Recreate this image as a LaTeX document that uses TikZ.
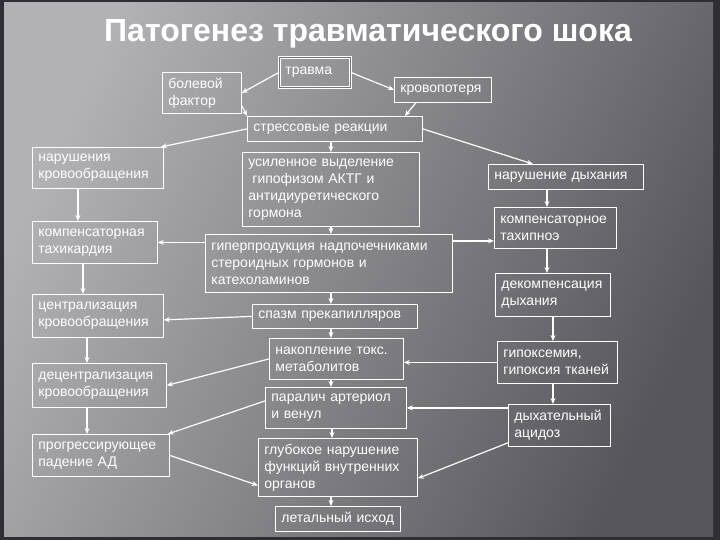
\documentclass[tikz,border=0pt]{standalone}
\usepackage{fontspec}
\setmainfont{Liberation Sans}
\usetikzlibrary{arrows.meta}

\definecolor{bglight}{HTML}{B2B2B6}
\definecolor{bgmid}{HTML}{74747A}
\definecolor{bgdark}{HTML}{56565C}
\definecolor{frame}{HTML}{2E2E34}

\tikzset{
  blk/.style 2 args={text width=#1, minimum height=#2},
  link/.style={->, draw=white, line width=1.2pt}
}

\begin{document}
\begin{tikzpicture}[x=1pt, y=-1pt, >={Stealth[length=6pt,width=5pt]}]
\useasboundingbox (0,0) rectangle (720,540);
\fill[frame] (0,0) rectangle (720,540);
\shade[left color=bglight, middle color=bgmid, right color=bgdark, shading angle=65] (4,3) rectangle (713,536);

\node[text=white, font=\fontsize{32}{32}\bfseries\selectfont] (title) at (368,34) {Патогенез травматического шока};

\begin{scope}[every node/.style={draw=white, thick, text=white, anchor=north west, align=left, inner xsep=6pt, inner ysep=3pt, font=\fontsize{14}{17}\selectfont}]
    \node[blk={67pt}{41pt}] (pain) at (162,72) {болевой\\фактор};
    \node[blk={59pt}{30pt}, double=bgmid, double distance=1.2pt] (trauma) at (279,57) {травма};
    \node[blk={85pt}{25pt}] (bloodloss) at (394,77) {кровопотеря};
    \node[blk={163pt}{25pt}] (stress) at (247,116) {стрессовые реакции};

    \node[blk={119pt}{41pt}] (circ) at (32,147) {нарушения\\кровообращения};
    \node[blk={113pt}{42pt}] (tachy) at (32,221) {компенсаторная\\тахикардия};
    \node[blk={119pt}{43pt}] (central) at (32,294) {централизация\\кровообращения};
    \node[blk={122pt}{44pt}] (decentral) at (32,363) {децентрализация\\кровообращения};
    \node[blk={125pt}{42pt}] (pressure) at (32,434) {прогрессирующее\\падение АД};

    \node[blk={165pt}{74pt}] (acth) at (242,152) {усиленное выделение\\\hspace{4pt}гипофизом АКТГ и\\антидиуретического\\гормона};
    \node[blk={235pt}{58pt}] (adrenal) at (205,234) {гиперпродукция надпочечниками\\стероидных гормонов и\\катехоламинов};
    \node[blk={153pt}{24pt}] (spasm) at (252,304) {спазм прекапилляров};
    \node[blk={122pt}{41pt}] (toxin) at (269,338) {накопление токс.\\метаболитов};
    \node[blk={129pt}{41pt}] (paralysis) at (265,387) {паралич артериол\\и венул};
    \node[blk={147pt}{58pt}] (organs) at (258,438) {глубокое нарушение\\функций внутренних\\органов};
    \node[blk={113pt}{25pt}] (death) at (275,506) {летальный исход};

    \node[blk={143pt}{25pt}] (breath) at (488,164) {нарушение дыхания};
    \node[blk={110pt}{41pt}] (tachypnea) at (494,207) {компенсаторное\\тахипноэ};
    \node[blk={103pt}{43pt}] (decomp) at (495,273) {декомпенсация\\дыхания};
    \node[blk={108pt}{42pt}] (hypoxia) at (497,341) {гипоксемия,\\гипоксия тканей};
    \node[blk={90pt}{42pt}] (acidosis) at (508,404) {дыхательный\\ацидоз};
\end{scope}

\draw[link] (trauma.west) -- (pain.east);
\draw[link] (trauma.east) -- (bloodloss.west);
\draw[link] ([yshift=8pt]pain.south east) -- (stress.north west);
\draw[link] ([xshift=-27pt]bloodloss.south) -- ([xshift=70pt]stress.north);
\draw[link] (stress.west) -- ([xshift=-3pt]circ.north east);
\draw[link] (stress.south -| acth.north) -- (acth.north);
\draw[link] (stress.east) -- ([xshift=-33pt]breath.north);

\draw[link] ([xshift=-20pt]circ.south) -- ([xshift=-20pt]circ.south |- tachy.north);
\draw[link] (tachy.south -| 83,0) -- (central.north -| 83,0);
\draw[link] (central.south -| 87,0) -- (decentral.north -| 87,0);
\draw[link] (decentral.south -| 87,0) -- (pressure.north -| 87,0);

\draw[link] (acth.south) -- (acth.south |- adrenal.north);
\draw[link] (adrenal.west |- tachy.east) -- (tachy.east);
\draw[link] ([yshift=-13pt]tachypnea.west -| adrenal.east) -- ([yshift=-13pt]tachypnea.west);
\draw[link] (adrenal.south -| acth.south) -- (spasm.north -| acth.south);
\draw[link] (spasm.west) -- ([yshift=-4pt]central.east);
\draw[link] (spasm.south -| 331,0) -- (toxin.north -| 331,0);
\draw[link] (toxin.west) -- (decentral.east);
\draw[link] (toxin.south -| 331,0) -- (paralysis.north -| 331,0);
\draw[link] ([yshift=7pt]paralysis.west) -- ([xshift=-2pt]pressure.north east);
\draw[link] (pressure.east) -- ([yshift=-18pt]organs.west);
\draw[link] (paralysis.south -| 332,0) -- (organs.north -| 332,0);
\draw[link] (organs.south -| 331,0) -- (death.north -| 331,0);

\draw[link] (breath.south -| 547,0) -- (tachypnea.north -| 547,0);
\draw[link] (tachypnea.south -| 547,0) -- (decomp.north -| 547,0);
\draw[link] (decomp.south -| 553,0) -- (hypoxia.north -| 553,0);
\draw[link] (hypoxia.south -| 553,0) -- (acidosis.north -| 553,0);
\draw[link] (hypoxia.west) -- (hypoxia.west -| toxin.east);
\draw[link] (paralysis.east -| acidosis.west) -- (paralysis.east);
\draw[link] ([yshift=4pt]acidosis.south west) -- ([yshift=-11pt]organs.east);
\end{tikzpicture}
\end{document}
